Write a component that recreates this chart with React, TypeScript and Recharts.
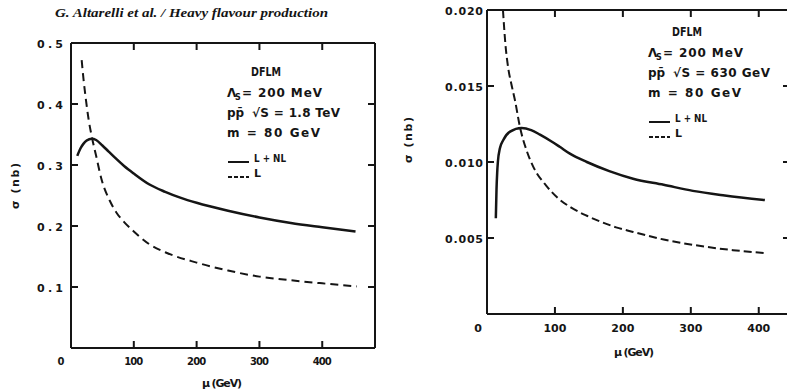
import React from 'react';
import { LineChart, Line, XAxis, YAxis, Legend, Label } from 'recharts';

const INK = '#151515';
const PLOT_FONT = '"DejaVu Sans", Verdana, sans-serif';

// pp̄ at √S = 1.8 TeV: σ (nb) against scale μ (GeV)
const leftMuNL = [10, 15, 20, 25, 33, 40, 50, 60, 70, 85, 100, 125, 150, 175, 200, 250, 300, 350, 400, 453];
const leftSigmaNL = [0.315, 0.327, 0.335, 0.34, 0.343, 0.341, 0.332, 0.322, 0.312, 0.298, 0.286, 0.268, 0.256, 0.246, 0.238, 0.225, 0.214, 0.205, 0.198, 0.191];
const leftMuLO = [17, 20, 24, 28, 33, 40, 49, 62, 73, 85, 100, 125, 150, 200, 250, 300, 350, 400, 455];
const leftSigmaLO = [0.472, 0.44, 0.405, 0.375, 0.347, 0.315, 0.275, 0.241, 0.221, 0.206, 0.191, 0.17, 0.157, 0.14, 0.127, 0.117, 0.111, 0.106, 0.101];

// pp̄ at √S = 630 GeV
const rightMuNL = [13, 14, 15, 16, 19, 24, 34, 51, 65, 78, 95, 107, 122, 147, 180, 215, 260, 303, 350, 409];
const rightSigmaNL = [0.0063, 0.0082, 0.0093, 0.01, 0.0109, 0.01145, 0.012, 0.01224, 0.0121, 0.0118, 0.01135, 0.011, 0.01055, 0.01, 0.0094, 0.0089, 0.0085, 0.0081, 0.0078, 0.0075];
const rightMuLO = [23.5, 27, 31, 36, 41, 49, 58, 68, 88, 105, 124, 145, 166, 190, 215, 260, 303, 362, 412];
const rightSigmaLO = [0.02, 0.0178, 0.01625, 0.0151, 0.0141, 0.0122, 0.0108, 0.0097, 0.0084, 0.0076, 0.007, 0.0065, 0.0061, 0.0057, 0.0054, 0.0049, 0.00455, 0.0042, 0.004];

const xTicks = [0, 100, 200, 300, 400];
const frameXTicks = [100, 200, 300, 400];
const leftYTicks = [0.1, 0.2, 0.3, 0.4, 0.5];
const leftFrameYTicks = [0.1, 0.2, 0.3, 0.4];
const rightYTicks = [0.005, 0.01, 0.015, 0.02];
const rightFrameYTicks = [0.005, 0.01, 0.015];

const LEFT_X_MAX = 484;
const LEFT_Y_MAX = 0.5;
const RIGHT_X_MAX = 446;
const RIGHT_Y_MAX = 0.02;

const CHART_W = 400;
const CHART_H = 390;
const X_AXIS_H = 30;
const FRAME = 1;
const leftMargin = { top: 42, right: 24, bottom: 12, left: 31 };
const rightMargin = { top: 9, right: 9, bottom: 46, left: 37 };
const LEFT_Y_AXIS_W = 40;
const RIGHT_Y_AXIS_W = 50;

const toPoints = (mu: number[], sigma: number[]) => mu.map((m, i) => ({ mu: m, sigma: sigma[i] }));

const leftNL = toPoints(leftMuNL, leftSigmaNL);
const leftLO = toPoints(leftMuLO, leftSigmaLO);
const rightNL = toPoints(rightMuNL, rightSigmaNL);
const rightLO = toPoints(rightMuLO, rightSigmaLO);

const TICK_LEN = 7;
const frameLine = { stroke: INK, strokeWidth: 2 };

const textStyle = { fontFamily: PLOT_FONT, fontWeight: 'bold' as const, fill: INK };

// plot rectangle that the margins and axis sizes leave over
const plotBox = (m: typeof leftMargin, yAxisW: number) => ({
  left: m.left + yAxisW,
  right: CHART_W - m.right - FRAME,
  top: m.top + FRAME,
  bottom: CHART_H - m.bottom - X_AXIS_H,
});

// inward tick marks on all four sides of the box
const EdgeTicks = ({ box, xMax, yMax, xVals, yVals }: any) => {
  const sx = (v: number) => box.left + (v / xMax) * (box.right - box.left);
  const sy = (v: number) => box.bottom - (v / yMax) * (box.bottom - box.top);
  const d = [
    ...xVals.map((v: number) => `M${sx(v)},${box.bottom} V${box.bottom - TICK_LEN} M${sx(v)},${box.top} V${box.top + TICK_LEN}`),
    ...yVals.map((v: number) => `M${box.left},${sy(v)} H${box.left + TICK_LEN} M${box.right},${sy(v)} H${box.right - TICK_LEN}`),
  ].join(' ');
  return (
    <svg width={CHART_W} height={CHART_H} style={{ position: 'absolute', left: 0, top: 0, pointerEvents: 'none' }}>
      <path d={d} stroke={INK} strokeWidth={2} fill="none" />
    </svg>
  );
};

// top and right sides of the box
const frameAxes = (xMax: number, yMax: number) => [
  <XAxis key="ft" xAxisId="ft" orientation="top" type="number" domain={[0, xMax]} height={FRAME} tick={false} tickLine={false} axisLine={frameLine} />,
  <YAxis key="fr" yAxisId="fr" orientation="right" type="number" domain={[0, yMax]} width={FRAME} tick={false} tickLine={false} axisLine={frameLine} />,
];

const YTick = (props: any) => {
  const { x, y, payload, digits, len } = props;
  return (
    <text x={x} y={y + 5} textAnchor="end" fontSize={11} textLength={len} lengthAdjust="spacing" {...textStyle}>
      {payload.value.toFixed(digits)}
    </text>
  );
};

const XTick = (props: any) => {
  const { x, y, payload, len, zeroShift, size, lift } = props;
  const zero = payload.value === 0;
  return (
    <text
      x={x + (zero ? zeroShift : 0)}
      y={y + lift}
      textAnchor="middle"
      fontSize={size}
      textLength={zero ? undefined : len}
      lengthAdjust="spacing"
      {...textStyle}
    >
      {payload.value}
    </text>
  );
};

const XTitle = ({ x, y }: { x: number; y: number }) => (
  <text x={x} y={y} textAnchor="middle" fontSize={11} textLength={40} lengthAdjust="spacing" {...textStyle}>
    μ (GeV)
  </text>
);

const YTitle = ({ x, y }: { x: number; y: number }) => (
  <text x={x} y={y} transform={`rotate(-90 ${x} ${y})`} textAnchor="middle" fontSize={11} textLength={46} lengthAdjust="spacing" {...textStyle}>
    σ (nb)
  </text>
);

// parameter block plus line samples, solid (L + NL) above dashed (L)
const ParamLegend = ({ payload, energy, energyLen }: any) => {
  const items = [...(payload || [])].sort(
    (a: any, b: any) => (a.payload?.strokeDasharray ? 1 : 0) - (b.payload?.strokeDasharray ? 1 : 0)
  );
  return (
    <svg width={160} height={130} style={{ overflow: 'visible' }}>
      <g fontSize={12} {...textStyle}>
        <text x={44} y={16} textAnchor="middle" textLength={30} lengthAdjust="spacingAndGlyphs">DFLM</text>
        <text x={5} y={37}>Λ</text>
        <text x={13} y={40} fontSize={8}>S</text>
        <text x={20} y={37} textLength={80} lengthAdjust="spacing">= 200 MeV</text>
        <text x={5} y={57}>pp̄</text>
        <text x={30} y={57} textLength={energyLen} lengthAdjust="spacing">{`√S = ${energy}`}</text>
        <text x={5} y={77} textLength={93} lengthAdjust="spacing">m  = 80 GeV</text>
      </g>
      {items.map((entry: any, i: number) => {
        const y = 101 + i * 15;
        return (
          <g key={entry.value}>
            <line x1={6} x2={27} y1={y + 1} y2={y + 1} stroke={entry.color} strokeWidth={2} strokeDasharray={entry.payload?.strokeDasharray ? '4 2' : undefined} />
            <text x={32} y={y + 1} fontSize={11} textLength={i === 0 ? 32 : undefined} lengthAdjust="spacingAndGlyphs" {...textStyle}>
              {entry.value}
            </text>
          </g>
        );
      })}
    </svg>
  );
};

const LeftPanel = () => (
  <LineChart width={CHART_W} height={CHART_H} margin={leftMargin}>
    {frameAxes(LEFT_X_MAX, LEFT_Y_MAX)}
    <XAxis
      xAxisId="b"
      dataKey="mu"
      type="number"
      domain={[0, LEFT_X_MAX]}
      ticks={xTicks}
      allowDataOverflow
      height={X_AXIS_H}
      tickSize={0}
      tickMargin={0}
      axisLine={frameLine}
      tickLine={false}
      tick={(p: any) => <XTick {...p} len={19} zeroShift={-10} size={10} lift={17} />}
    >
      <Label content={() => <XTitle x={222} y={387} />} />
    </XAxis>
    <YAxis
      yAxisId="l"
      type="number"
      domain={[0, LEFT_Y_MAX]}
      ticks={leftYTicks}
      width={LEFT_Y_AXIS_W}
      tickSize={0}
      tickMargin={8}
      axisLine={frameLine}
      tickLine={false}
      tick={(p: any) => <YTick {...p} digits={1} len={26} />}
    >
      <Label content={() => <YTitle x={19} y={186} />} />
    </YAxis>
    <Legend
      layout="horizontal"
      verticalAlign="middle"
      align="center"
      wrapperStyle={{ left: 222, top: 60, width: 160, height: 130 }}
      content={(p: any) => <ParamLegend payload={p.payload} energy="1.8 TeV" energyLen={88} />}
    />
    <Line xAxisId="b" yAxisId="l" data={leftNL} dataKey="sigma" name="L + NL" type="monotone" stroke={INK} strokeWidth={2.5} dot={false} isAnimationActive={false} />
    <Line xAxisId="b" yAxisId="l" data={leftLO} dataKey="sigma" name="L" type="monotone" stroke={INK} strokeWidth={2} strokeDasharray="8 5" dot={false} isAnimationActive={false} />
  </LineChart>
);

const RightPanel = () => (
  <LineChart width={CHART_W} height={CHART_H} margin={rightMargin}>
    {frameAxes(RIGHT_X_MAX, RIGHT_Y_MAX)}
    <XAxis
      xAxisId="b"
      dataKey="mu"
      type="number"
      domain={[0, RIGHT_X_MAX]}
      ticks={xTicks}
      allowDataOverflow
      height={X_AXIS_H}
      tickSize={0}
      tickMargin={0}
      axisLine={frameLine}
      tickLine={false}
      tick={(p: any) => <XTick {...p} len={23} zeroShift={-9} size={11} lift={18} />}
    >
      <Label content={() => <XTitle x={234} y={356} />} />
    </XAxis>
    <YAxis
      yAxisId="l"
      type="number"
      domain={[0, RIGHT_Y_MAX]}
      ticks={rightYTicks}
      allowDataOverflow
      width={RIGHT_Y_AXIS_W}
      tickSize={0}
      tickMargin={4}
      axisLine={frameLine}
      tickLine={false}
      tick={(p: any) => <YTick {...p} digits={3} len={38} />}
    >
      <Label content={() => <YTitle x={12} y={140} />} />
    </YAxis>
    <Legend
      layout="horizontal"
      verticalAlign="middle"
      align="center"
      wrapperStyle={{ left: 243, top: 20, width: 160, height: 130 }}
      content={(p: any) => <ParamLegend payload={p.payload} energy="630 GeV" energyLen={97} />}
    />
    <Line xAxisId="b" yAxisId="l" data={rightNL} dataKey="sigma" name="L + NL" type="monotone" stroke={INK} strokeWidth={2.5} dot={false} isAnimationActive={false} />
    <Line xAxisId="b" yAxisId="l" data={rightLO} dataKey="sigma" name="L" type="monotone" stroke={INK} strokeWidth={2} strokeDasharray="8 4" dot={false} isAnimationActive={false} />
  </LineChart>
);

export default function App() {
  return (
    <div style={{ position: 'fixed', left: 0, top: 0, width: 787, height: 390, overflow: 'hidden', background: '#fff' }}>
      <div style={{ position: 'absolute', left: 0, top: 0, width: CHART_W, height: CHART_H }}>
        <LeftPanel />
        <EdgeTicks box={plotBox(leftMargin, LEFT_Y_AXIS_W)} xMax={LEFT_X_MAX} yMax={LEFT_Y_MAX} xVals={frameXTicks} yVals={leftFrameYTicks} />
      </div>
      <div style={{ position: 'absolute', left: 400, top: 0, width: CHART_W, height: CHART_H }}>
        <RightPanel />
        <EdgeTicks box={plotBox(rightMargin, RIGHT_Y_AXIS_W)} xMax={RIGHT_X_MAX} yMax={RIGHT_Y_MAX} xVals={frameXTicks} yVals={rightFrameYTicks} />
      </div>
      <svg width={400} height={26} style={{ position: 'absolute', left: 0, top: 0 }}>
        <text
          x={55}
          y={17}
          fontFamily='"Liberation Serif", serif'
          fontStyle="italic"
          fontWeight="bold"
          fontSize={12}
          fill={INK}
          textLength={273}
          lengthAdjust="spacingAndGlyphs"
        >
          G. Altarelli et al. / Heavy flavour production
        </text>
      </svg>
    </div>
  );
}
